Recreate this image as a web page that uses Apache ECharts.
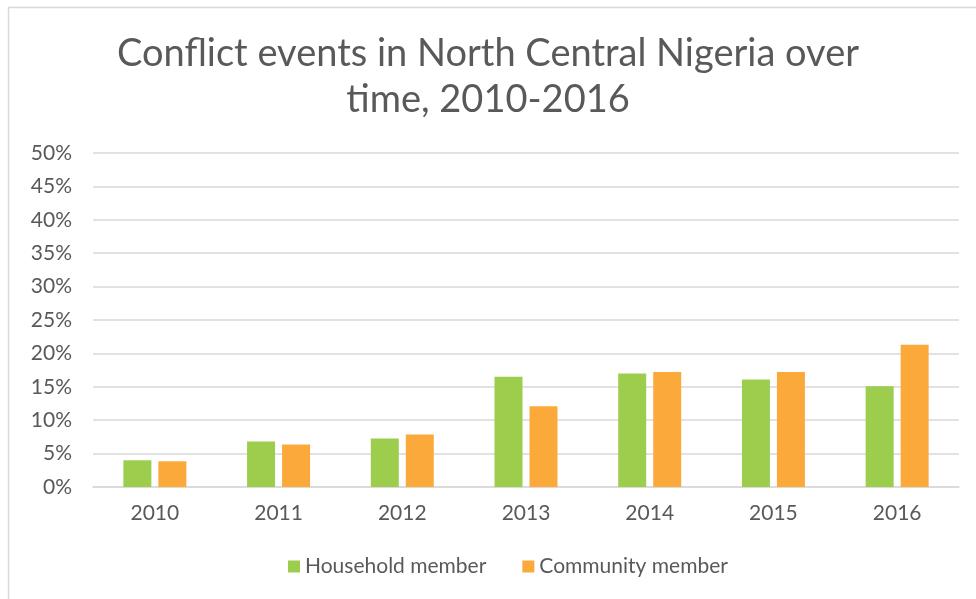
<!DOCTYPE html>
<html style="height: 100%">
  <head>
    <meta charset="utf-8" />
    <title>Conflict events</title>
    <script src="https://cdn.jsdelivr.net/npm/echarts@6/dist/echarts.min.js"></script>
  </head>
  <body style="height: 100%; margin: 0; background: #fff">
    <div id="container" style="width: 976px; height: 599px"></div>

    <script type="text/javascript">
      var years = ['2010', '2011', '2012', '2013', '2014', '2015', '2016'];
      var household = [4.0, 6.8, 7.25, 16.5, 17.0, 16.1, 15.1];
      var community = [3.85, 6.35, 7.85, 12.1, 17.2, 17.2, 21.3];
      var yTicks = [0, 5, 10, 15, 20, 25, 30, 35, 40, 45, 50];

      var textColor = '#595959';
      var font = 'Lato';

      var myChart = echarts.init(document.getElementById('container'));

      myChart.setOption({
        backgroundColor: '#fff',
        animation: false,
        title: {
          text: 'Conflict events in North Central Nigeria over\ntime, 2010-2016',
          left: 'center',
          top: 26,
          textStyle: {
            color: textColor,
            fontFamily: font,
            fontWeight: 'normal',
            fontSize: 38,
            lineHeight: 46
          }
        },
        graphic: [
          {
            type: 'rect',
            shape: { x: 8.5, y: 7.5, width: 1000, height: 700 },
            style: { fill: 'none', stroke: '#d9d9d9', lineWidth: 1.5 },
            silent: true
          }
        ],
        legend: {
          bottom: 17,
          left: 283,
          itemWidth: 12,
          itemHeight: 12,
          itemGap: 36,
          icon: 'rect',
          textStyle: { color: textColor, fontFamily: font, fontSize: 21 },
          data: ['Household member', 'Community member']
        },
        grid: { left: 93, right: 17, top: 153, bottom: 112 },
        xAxis: {
          type: 'category',
          data: years,
          axisTick: { show: false },
          axisLine: { lineStyle: { color: '#d9d9d9', width: 1.5 } },
          axisLabel: { color: textColor, fontFamily: font, fontSize: 21, margin: 16 }
        },
        yAxis: {
          type: 'value',
          min: yTicks[0],
          max: yTicks[yTicks.length - 1],
          interval: 5,
          axisLine: { show: false },
          axisTick: { show: false },
          splitLine: { lineStyle: { color: '#d9d9d9', width: 1.5 } },
          axisLabel: {
            color: textColor,
            fontFamily: font,
            fontSize: 21,
            margin: 21,
            formatter: '{value}%'
          }
        },
        series: [
          {
            name: 'Household member',
            type: 'bar',
            data: household,
            barWidth: 28,
            barGap: '25%',
            itemStyle: { color: '#9ccd4c' }
          },
          {
            name: 'Community member',
            type: 'bar',
            data: community,
            barWidth: 28,
            itemStyle: { color: '#fba93b' }
          }
        ]
      });
    </script>
  </body>
</html>
